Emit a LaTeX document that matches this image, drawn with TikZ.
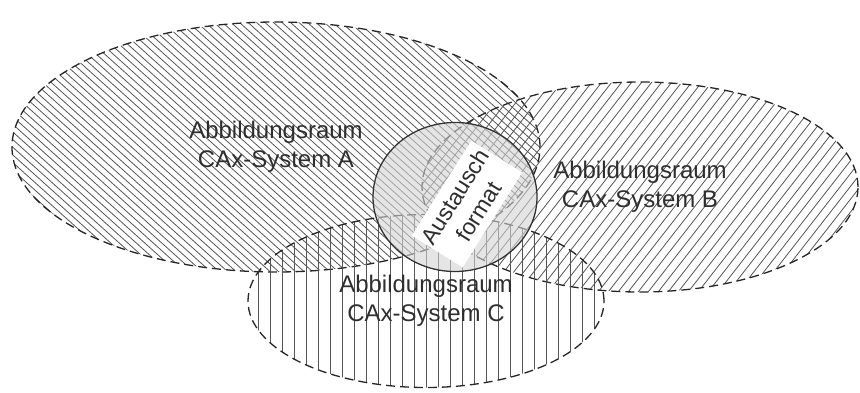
\documentclass[tikz,border=0pt]{standalone}
\usepackage{fontspec}
\setmainfont{Liberation Sans}
\usetikzlibrary{shapes.geometric}
\definecolor{hatchgray}{HTML}{555555}
\definecolor{textgray}{HTML}{2E2E2E}
\definecolor{circlegray}{HTML}{D4D4D4}

\begin{document}
\begin{tikzpicture}[x=1pt, y=-1pt,
  raum/.style={ellipse, draw=black!85, line width=1.3pt, dash pattern=on 9pt off 5pt,
    inner sep=0pt, align=center, text=textgray, font=\fontsize{24}{28.5}\selectfont},
  hatch/.style={draw=hatchgray, line width=0.8pt, solid}]
  \useasboundingbox (0,0) rectangle (860,392);
  \node[raum, minimum width=528pt, minimum height=250pt,
        path picture={\foreach \k in {-60,...,60}
          \draw[hatch] (path picture bounding box.center) ++(\k*8.5,0) ++(-446,-401) -- ++(892,802);}]
    (raumA) at (276,147) {Abbildungsraum\\CAx-System A};
  \node[raum, minimum width=436pt, minimum height=210pt,
        path picture={\foreach \k in {-40,...,40}
          \draw[hatch] (path picture bounding box.center) ++(\k*10,0) ++(-369,473) -- ++(738,-946);}]
    (raumB) at (640,187) {Abbildungsraum\\CAx-System B};
  \node[raum, minimum width=356pt, minimum height=173pt,
        path picture={\foreach \k in {-16,...,16}
          \draw[hatch] (path picture bounding box.center) ++(\k*12,0) ++(0,-300) -- ++(0,600);}]
    (raumC) at (426,301) {Abbildungsraum\\CAx-System C};
  \node[ellipse, draw=black!80, line width=1.3pt, fill=circlegray, fill opacity=0.6,
        minimum width=164pt, minimum height=149pt, inner sep=0pt] (austausch) at (455,197) {};
  \node[fill=white, rotate=58, minimum width=112pt, minimum height=60pt, inner sep=1pt,
        align=center, text=textgray, font=\fontsize{23}{28}\selectfont] (format) at (467,204)
    {Austausch\\format};
\end{tikzpicture}
\end{document}
